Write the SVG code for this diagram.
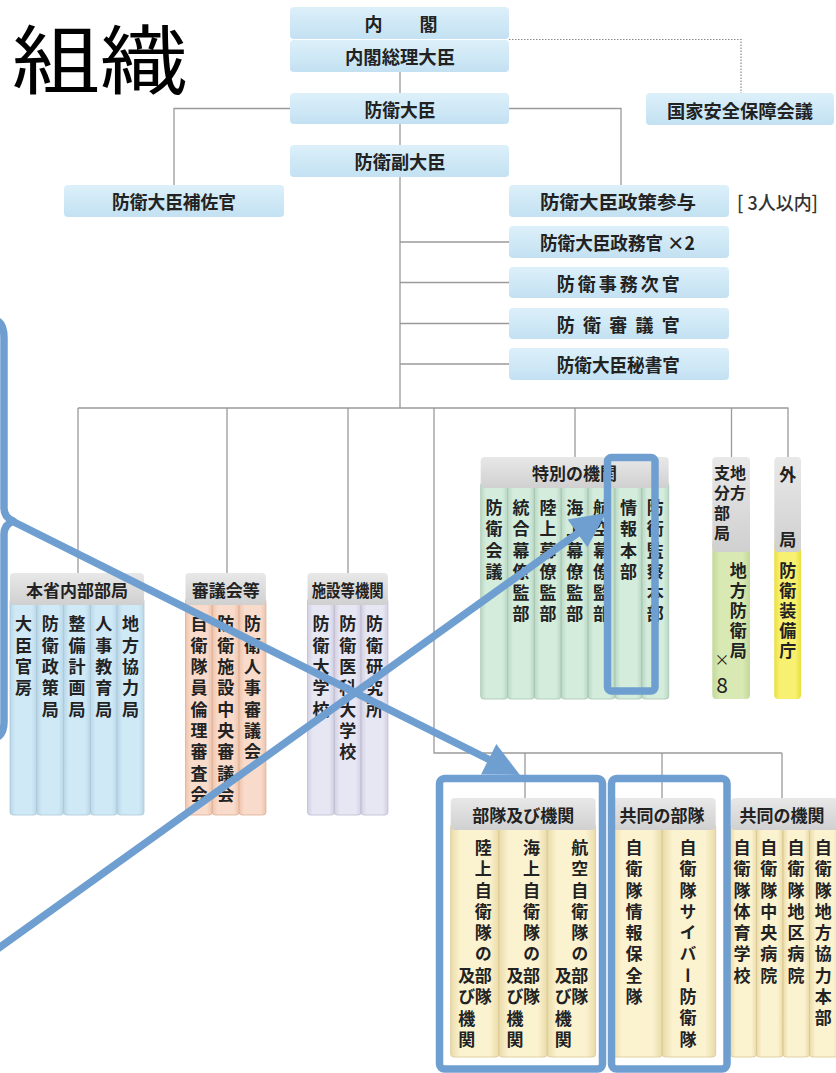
<svg xmlns="http://www.w3.org/2000/svg" width="836" height="1073" viewBox="0 0 836 1073">
<defs>
<linearGradient id="gTop" x1="0" y1="0" x2="0" y2="1"><stop offset="0" stop-color="#dcf0fa"/><stop offset="1" stop-color="#c3e1f2"/></linearGradient>
<linearGradient id="gHead" x1="0" y1="0" x2="0" y2="1"><stop offset="0" stop-color="#e8e8e8"/><stop offset="1" stop-color="#d0d0d0"/></linearGradient>
<linearGradient id="cBlue" x1="0" y1="0" x2="1" y2="0"><stop offset="0" stop-color="#b9d7e9"/><stop offset="0.2" stop-color="#d0e9f6"/><stop offset="0.8" stop-color="#d0e9f6"/><stop offset="1" stop-color="#b9d7e9"/></linearGradient>
<linearGradient id="cPeach" x1="0" y1="0" x2="1" y2="0"><stop offset="0" stop-color="#efc4ad"/><stop offset="0.2" stop-color="#f8dbca"/><stop offset="0.8" stop-color="#f8dbca"/><stop offset="1" stop-color="#efc4ad"/></linearGradient>
<linearGradient id="cLav" x1="0" y1="0" x2="1" y2="0"><stop offset="0" stop-color="#d2d0e3"/><stop offset="0.2" stop-color="#e7e6f3"/><stop offset="0.8" stop-color="#e7e6f3"/><stop offset="1" stop-color="#d2d0e3"/></linearGradient>
<linearGradient id="cGreen" x1="0" y1="0" x2="1" y2="0"><stop offset="0" stop-color="#b9d8c4"/><stop offset="0.2" stop-color="#d4ecdc"/><stop offset="0.8" stop-color="#d4ecdc"/><stop offset="1" stop-color="#b9d8c4"/></linearGradient>
<linearGradient id="cLime" x1="0" y1="0" x2="1" y2="0"><stop offset="0" stop-color="#c3d89a"/><stop offset="0.2" stop-color="#d8e9b3"/><stop offset="0.8" stop-color="#d8e9b3"/><stop offset="1" stop-color="#c3d89a"/></linearGradient>
<linearGradient id="cYel" x1="0" y1="0" x2="1" y2="0"><stop offset="0" stop-color="#e9de3a"/><stop offset="0.2" stop-color="#f7f070"/><stop offset="0.8" stop-color="#f7f070"/><stop offset="1" stop-color="#e9de3a"/></linearGradient>
<linearGradient id="cCream" x1="0" y1="0" x2="1" y2="0"><stop offset="0" stop-color="#eadba8"/><stop offset="0.2" stop-color="#fbf2d0"/><stop offset="0.8" stop-color="#fbf2d0"/><stop offset="1" stop-color="#eadba8"/></linearGradient>
</defs>
<style>
.box{fill:url(#gTop);}
.hd{fill:url(#gHead);}
.ln{fill:none;stroke:#9a9a9a;stroke-width:1.3;}
.dot{fill:none;stroke:#8a8a8a;stroke-width:1.2;stroke-dasharray:1.5 1.5;}
.t{font-family:"Noto Sans CJK JP","Noto Sans CJK SC",sans-serif;font-size:18px;font-weight:700;fill:#222;text-anchor:middle;dominant-baseline:central;}
.h{font-family:"Noto Sans CJK JP","Noto Sans CJK SC",sans-serif;font-size:17px;font-weight:700;fill:#222;text-anchor:middle;dominant-baseline:central;}
.v{font-family:"Noto Sans CJK JP","Noto Sans CJK SC",sans-serif;font-size:17px;font-weight:700;fill:#222;writing-mode:vertical-rl;letter-spacing:4.3px;}
.v2{font-family:"Noto Sans CJK JP","Noto Sans CJK SC",sans-serif;font-size:17px;font-weight:700;fill:#222;writing-mode:vertical-rl;letter-spacing:3px;}
.cb{fill:url(#cBlue);stroke:#a9c6d8;stroke-width:0.8;}
.cp{fill:url(#cPeach);stroke:#dcae95;stroke-width:0.8;}
.cl{fill:url(#cLav);stroke:#bdbad0;stroke-width:0.8;}
.cg{fill:url(#cGreen);stroke:#a5c4b0;stroke-width:0.8;}
.cli{fill:url(#cLime);}
.cy{fill:url(#cYel);}
.cc{fill:url(#cCream);stroke:#d8c792;stroke-width:0.8;}
.ann{fill:none;stroke:#6f9fd1;stroke-width:7.5;stroke-linecap:round;stroke-linejoin:round;}
.annf{fill:#6f9fd1;}
</style>
<rect width="836" height="1073" fill="#ffffff"/>

<text id="title" x="12" y="88" font-family="'Noto Sans CJK JP','Noto Sans CJK SC',sans-serif" font-size="75" font-weight="400" fill="#000" textLength="176" lengthAdjust="spacingAndGlyphs">組織</text>

<g id="connectors">
<path class="dot" d="M509 39.5 H741 V93"/>
<path class="ln" d="M400 72 V93 M400 124 V145 M400 177 V408"/>
<path class="ln" d="M290 108.5 H174 V185 M509 108.5 H621 V185"/>
<path class="ln" d="M400 242 H509 M400 282.5 H509 M400 323.5 H509 M400 364 H509"/>
<path class="ln" d="M78 408 H788.5 M78 408 V573 M227 408 V573 M348 408 V573 M575 408 V457 M731.5 408 V457 M788 408 V457"/>
<path class="ln" d="M434 408 V753 H782 M525 753 V798 M662 753 V798 M782 753 V798"/>
</g>

<g id="naikaku"><rect class="box" x="290" y="7" width="219" height="32" rx="4"/><text class="t" x="373.5" y="23">内</text><text class="t" x="428.5" y="23">閣</text></g>
<g id="sori"><rect class="box" x="290" y="40" width="219" height="32" rx="4"/><text class="t" x="400" y="56" textLength="110" lengthAdjust="spacingAndGlyphs">内閣総理大臣</text></g>
<g id="kokka"><rect class="box" x="646" y="93" width="188" height="32" rx="4"/><text class="t" x="740" y="109.5" textLength="146" lengthAdjust="spacingAndGlyphs">国家安全保障会議</text></g>
<g id="daijin"><rect class="box" x="290" y="93" width="219" height="31" rx="4"/><text class="t" x="400" y="108.5" textLength="71" lengthAdjust="spacingAndGlyphs">防衛大臣</text></g>
<g id="fuku"><rect class="box" x="290" y="145" width="219" height="32" rx="4"/><text class="t" x="400" y="161" textLength="91" lengthAdjust="spacingAndGlyphs">防衛副大臣</text></g>
<g id="hosa"><rect class="box" x="64" y="185" width="220" height="32" rx="4"/><text class="t" x="174" y="201" textLength="124" lengthAdjust="spacingAndGlyphs">防衛大臣補佐官</text></g>
<g id="sanyo"><rect class="box" x="509" y="185" width="220" height="32" rx="4"/><text class="t" x="618" y="201" textLength="156" lengthAdjust="spacingAndGlyphs">防衛大臣政策参与</text><text x="737" y="201" font-family="'Noto Sans CJK JP',sans-serif" font-size="19" font-weight="500" fill="#333" dominant-baseline="central" textLength="81" lengthAdjust="spacingAndGlyphs">[ 3人以内]</text></g>
<g id="seimu"><rect class="box" x="509" y="226" width="220" height="32" rx="4"/><text class="t" x="617.5" y="242" textLength="155" lengthAdjust="spacingAndGlyphs">防衛大臣政務官 ×2</text></g>
<g id="jimu"><rect class="box" x="509" y="267" width="220" height="31" rx="4"/><text class="t" x="618.3" y="282.5" textLength="123" lengthAdjust="spacing">防衛事務次官</text></g>
<g id="shingi"><rect class="box" x="509" y="308" width="220" height="31" rx="4"/><text class="t" x="618.3" y="323.5" textLength="123" lengthAdjust="spacing">防衛審議官</text></g>
<g id="hisho"><rect class="box" x="509" y="348" width="220" height="32" rx="4"/><text class="t" x="618.3" y="364" textLength="123" lengthAdjust="spacingAndGlyphs">防衛大臣秘書官</text></g>

<g id="honsho">
<rect class="cb" x="10" y="598" width="26.8" height="217" rx="3"/>
<rect class="cb" x="36.8" y="598" width="26.8" height="217" rx="3"/>
<rect class="cb" x="63.6" y="598" width="26.8" height="217" rx="3"/>
<rect class="cb" x="90.4" y="598" width="26.8" height="217" rx="3"/>
<rect class="cb" x="117.2" y="598" width="26.8" height="217" rx="3"/>
<rect class="hd" x="10" y="573" width="134" height="32" rx="4"/>
<text class="h" x="77" y="589">本省内部部局</text>
<text class="v" x="23.4" y="615.5">大臣官房</text>
<text class="v" x="50.2" y="615.5">防衛政策局</text>
<text class="v" x="77" y="615.5">整備計画局</text>
<text class="v" x="103.8" y="615.5">人事教育局</text>
<text class="v" x="130.6" y="615.5">地方協力局</text>
</g>

<g id="shingikai">
<rect class="cp" x="185.5" y="598" width="26.8" height="217" rx="3"/>
<rect class="cp" x="212.3" y="598" width="26.8" height="217" rx="3"/>
<rect class="cp" x="239.1" y="598" width="26.8" height="217" rx="3"/>
<rect class="hd" x="185.5" y="573" width="80.4" height="32" rx="4"/>
<text class="h" x="225.7" y="589">審議会等</text>
<text class="v" x="198.9" y="615.5">自衛隊員倫理審査会</text>
<text class="v" x="225.7" y="615.5">防衛施設中央審議会</text>
<text class="v" x="252.5" y="615.5">防衛人事審議会</text>
</g>

<g id="shisetsu">
<rect class="cl" x="307.5" y="598" width="26.8" height="217" rx="3"/>
<rect class="cl" x="334.3" y="598" width="26.8" height="217" rx="3"/>
<rect class="cl" x="361.1" y="598" width="26.8" height="217" rx="3"/>
<rect class="hd" x="307.5" y="573" width="80.4" height="32" rx="4"/>
<text class="h" x="347.7" y="589" textLength="72" lengthAdjust="spacingAndGlyphs">施設等機関</text>
<text class="v" x="320.9" y="615.5">防衛大学校</text>
<text class="v" x="347.7" y="615.5">防衛医科大学校</text>
<text class="v" x="374.5" y="615.5">防衛研究所</text>
</g>

<g id="tokubetsu">
<rect class="cg" x="480.7" y="482" width="26.86" height="217" rx="3"/>
<rect class="cg" x="507.56" y="482" width="26.86" height="217" rx="3"/>
<rect class="cg" x="534.42" y="482" width="26.86" height="217" rx="3"/>
<rect class="cg" x="561.28" y="482" width="26.86" height="217" rx="3"/>
<rect class="cg" x="588.14" y="482" width="26.86" height="217" rx="3"/>
<rect class="cg" x="615" y="482" width="26.86" height="217" rx="3"/>
<rect class="cg" x="641.86" y="482" width="26.86" height="217" rx="3"/>
<rect class="hd" x="480.7" y="457" width="188" height="31" rx="4"/>
<text class="h" x="574.5" y="472.5">特別の機関</text>
<text class="v" x="494.1" y="499">防衛会議</text>
<text class="v" x="521" y="499">統合幕僚監部</text>
<text class="v" x="547.9" y="499">陸上幕僚監部</text>
<text class="v" x="574.7" y="499">海上幕僚監部</text>
<text class="v" x="601.6" y="499">航空幕僚監部</text>
<text class="v" x="628.4" y="499">情報本部</text>
<text class="v" x="655.3" y="499">防衛監察本部</text>
</g>

<g id="chiho">
<rect class="cli" x="712.3" y="540" width="37.7" height="159" rx="4"/>
<rect class="hd" x="712.3" y="457" width="37.7" height="95" rx="4"/>
<text class="v2" x="738" y="464.5" style="font-size:16px;letter-spacing:4px">地方</text>
<text class="v2" x="722" y="464.5" style="font-size:16px;letter-spacing:4px">支分部局</text>
<text class="v2" x="738.3" y="562">地方防衛局</text>
<text x="722" y="658" font-family="'Noto Sans CJK JP',sans-serif" font-size="15" fill="#222" text-anchor="middle" dominant-baseline="central">×</text>
<text x="722" y="684" font-family="'Noto Sans CJK JP',sans-serif" font-size="21" fill="#222" text-anchor="middle" dominant-baseline="central">8</text>
</g>

<g id="gaikyoku">
<rect class="cy" x="774.3" y="540" width="26.7" height="159" rx="4"/>
<rect class="hd" x="774.3" y="457" width="26.7" height="95" rx="4"/>
<text class="h" x="787.7" y="473.5">外</text>
<text class="h" x="787.7" y="538.5">局</text>
<text class="v2" x="787.7" y="562">防衛装備庁</text>
</g>

<g id="butai">
<rect class="cc" x="450.7" y="824" width="48.3" height="233" rx="3"/>
<rect class="cc" x="499" y="824" width="48.3" height="233" rx="3"/>
<rect class="cc" x="547.3" y="824" width="48.3" height="233" rx="3"/>
<rect class="hd" x="450.7" y="798" width="144.9" height="32" rx="4"/>
<text class="h" x="523.3" y="814">部隊及び機関</text>
<text class="v" x="483.2" y="839">陸上自衛隊の部隊</text>
<text class="v" x="466.7" y="967">及び機関</text>
<text class="v" x="531.5" y="839">海上自衛隊の部隊</text>
<text class="v" x="515" y="967">及び機関</text>
<text class="v" x="579.8" y="839">航空自衛隊の部隊</text>
<text class="v" x="563.3" y="967">及び機関</text>
</g>

<g id="kyodo-butai">
<rect class="cc" x="611.7" y="824" width="50.6" height="233" rx="3"/>
<rect class="cc" x="662.3" y="824" width="53.4" height="233" rx="3"/>
<rect class="hd" x="611.7" y="798" width="104" height="32" rx="4"/>
<text class="h" x="662" y="814">共同の部隊</text>
<text class="v" x="634" y="839">自衛隊情報保全隊</text>
<text class="v" x="688" y="839">自衛隊サイバー防衛隊</text>
</g>

<g id="kyodo-kikan">
<rect class="cc" x="730.5" y="824" width="26" height="233" rx="3"/>
<rect class="cc" x="756.5" y="824" width="26.5" height="233" rx="3"/>
<rect class="cc" x="783" y="824" width="26.5" height="233" rx="3"/>
<rect class="cc" x="809.5" y="824" width="30" height="233" rx="3"/>
<rect class="hd" x="731" y="798" width="110" height="32" rx="4"/>
<text class="h" x="782" y="814">共同の機関</text>
<text class="v" x="742" y="839">自衛隊体育学校</text>
<text class="v" x="768.7" y="839">自衛隊中央病院</text>
<text class="v" x="796" y="839">自衛隊地区病院</text>
<text class="v" x="823.3" y="839">自衛隊地方協力本部</text>
</g>

<g id="annotations">
<path class="ann" d="M-1 322 Q4 326 4 338 L4 508 Q4 517 13 521 Q4 525 4 534 L4 722 Q4 732 -1 736"/>
<path class="ann" d="M12 521 L490 760"/>
<polygon class="annf" points="520,775 481,774.5 496.3,744.1"/>
<path class="ann" d="M-4 950 L578 533"/>
<polygon class="annf" points="606,513 587.4,547.2 567.6,519.5"/>
<rect class="ann" x="607.5" y="457.5" width="47.5" height="233.5" rx="4"/>
<rect class="ann" x="439.5" y="778.5" width="163" height="290.5" rx="5"/>
<rect class="ann" x="611.5" y="778.5" width="115.5" height="290.5" rx="5"/>
</g>
</svg>
